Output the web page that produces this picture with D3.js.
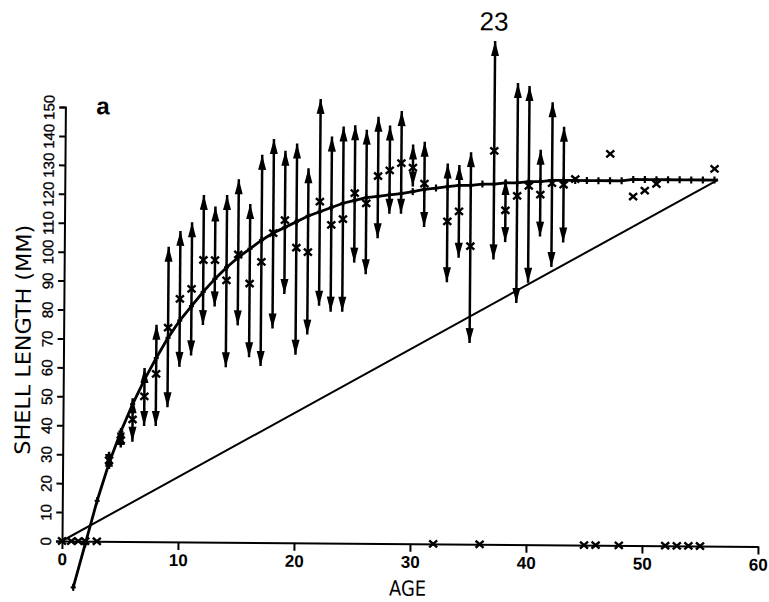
<!DOCTYPE html>
<html>
<head>
<meta charset="utf-8">
<script src="https://cdn.jsdelivr.net/npm/d3@7"></script>
<style>
  body { margin: 0; background: #fff; }
  svg { display: block; }
  .axis path, .axis line { stroke: #000; stroke-width: 2; }
  .axis text { fill: #000; font-family: "Liberation Sans", Arial, sans-serif; }
</style>
</head>
<body>
<div id="chart"></div>
<script>
// Fitted growth curve, one "+" per year of age
var curveAges = [1, 2, 3, 4, 5, 6, 7, 8, 9, 10, 11, 12, 13, 14, 15, 16, 17, 18, 19, 20,
  21, 22, 23, 24, 25, 26, 27, 28, 29, 30, 31, 32, 33, 34, 35, 36, 37, 38, 39, 40,
  41, 42, 43, 44, 45, 46, 47, 48, 49, 50, 51, 52, 53, 54, 55, 56]
var curveLength = [-16, -1, 14, 27, 38, 47.5, 56, 63.5, 70.5, 76.5, 81.5, 86.5, 91, 95, 98.5, 101.5, 104.5, 107, 109, 111,
  113, 114.5, 116, 117.5, 118.5, 119.5, 120, 120.5, 121, 121.7, 122.5, 123, 123.5, 124, 124, 124.5, 124.5, 125, 125, 125.5,
  125.5, 126, 126, 126, 126, 126, 126, 126, 126.5, 126.5, 126.5, 126.5, 126.5, 126.5, 126.5, 126.5]

// Straight reference line
var lineAges = [0, 56.3]
var lineLength = [0, 126.6]

// Observed mean length per age with its range (arrows)
var barAges = [4, 5, 6, 7, 8, 9, 10, 11, 12, 13, 14, 15, 16, 17, 18, 19, 20, 21, 22, 23,
  24, 25, 26, 27, 28, 29, 30, 31, 33, 34, 35, 37, 38, 39, 40, 41, 42, 43]
var barMean = [28, 35, 42.2, 50.2, 58, 74, 84, 87.5, 97.5, 97.5, 90.5, 99.5, 89.5, 97, 107, 111.5, 102, 100.5, 118, 110,
  112, 121, 117.5, 127, 129, 131.5, 130, 124.5, 111.5, 115, 103, 136, 115.5, 120.5, 124, 121, 125, 124.5]
var barHigh = [31, 38.5, 49.5, 60, 75, 102, 107.5, 110.5, 120, 116, 120, 125.5, 117, 134, 139.5, 135.5, 138, 129.5, 153.5, 140.5,
  144, 144.5, 143, 147.5, 144.5, 149.5, 138, 139, 131.5, 131, 135.5, 174, 126, 159.5, 158.5, 136.5, 153, 144.5]
var barLow = [25, 32.5, 34.5, 40, 40, 46.5, 60.5, 64.5, 75, 81.5, 60.5, 75, 64, 61, 74, 86, 65, 72, 82, 80,
  80, 97, 93, 105.5, 114, 114, 123.5, 109.5, 90.5, 99, 69.5, 98.5, 104.5, 83.5, 90.5, 106.5, 96, 104.5]

// Single observations without range
var extraAges = [44, 47, 49, 50, 51, 56]
var extraLength = [126.5, 135.3, 120.6, 122.7, 125, 130.4]

// Ages with no sample, plotted on the axis
var zeroAges = [0, 0.8, 1.4, 2, 3, 32, 36, 45, 46, 48, 52, 53, 54, 55]

var xTicks = [0, 10, 20, 30, 40, 50, 60]
var yTicks = [0, 10, 20, 30, 40, 50, 60, 70, 80, 90, 100, 110, 120, 130, 140, 150]

var width = 769, height = 602

var x = d3.scaleLinear().domain([0, 60]).range([62, 758])
var y = d3.scaleLinear().domain([0, 150]).range([541, 107])

var svg = d3.select("#chart")
  .append("svg")
    .attr("width", width)
    .attr("height", height)

svg.append("rect")
  .attr("width", width)
  .attr("height", height)
  .attr("fill", "#fff")

// the scanned plot sits slightly rotated
var g = svg.append("g")
  .attr("transform", "rotate(0.45," + x(0) + "," + y(0) + ")")

// Add X axis
var xAxis = g.append("g")
  .attr("class", "axis")
  .attr("transform", "translate(0," + y(0) + ")")
  .call(d3.axisBottom(x).tickValues(xTicks).tickSize(8).tickSizeOuter(0).tickPadding(4))
xAxis.selectAll("text")
  .style("font-size", "17px")
  .style("font-weight", "bold")

// Add Y axis
var yAxis = g.append("g")
  .attr("class", "axis")
  .attr("transform", "translate(" + x(0) + ",0)")
  .call(d3.axisLeft(y).tickValues(yTicks).tickSize(6).tickSizeOuter(6))
yAxis.selectAll("text")
  .attr("transform", "rotate(-90)")
  .attr("x", 0)
  .attr("y", -11)
  .attr("dy", null)
  .attr("text-anchor", "middle")
  .style("font-size", "15px")
  .style("stroke", "#000")
  .style("stroke-width", 0.3)

// Axis titles
g.append("text")
  .attr("transform", "translate(29,340) rotate(-90)")
  .attr("text-anchor", "middle")
  .attr("textLength", 230)
  .attr("lengthAdjust", "spacingAndGlyphs")
  .style("font-family", "DejaVu Sans, sans-serif")
  .style("font-size", "21px")
  .text("SHELL LENGTH (MM)")

g.append("text")
  .attr("x", 408)
  .attr("y", 593)
  .attr("text-anchor", "middle")
  .attr("textLength", 37)
  .attr("lengthAdjust", "spacingAndGlyphs")
  .style("font-family", "DejaVu Sans, sans-serif")
  .style("font-size", "21px")
  .text("AGE")

// Panel letter and sample count
g.append("text")
  .attr("x", 93)
  .attr("y", 114)
  .style("font-family", "Liberation Sans, Arial, sans-serif")
  .style("font-size", "24px")
  .style("font-weight", "bold")
  .text("a")

g.append("text")
  .attr("x", 490)
  .attr("y", 27)
  .attr("text-anchor", "middle")
  .style("font-family", "Liberation Sans, Arial, sans-serif")
  .style("font-size", "26px")
  .text("23")

// Straight line
g.append("path")
  .datum(d3.zip(lineAges, lineLength))
  .attr("fill", "none")
  .attr("stroke", "#000")
  .attr("stroke-width", 2)
  .attr("d", d3.line().x(function(d) { return x(d[0]) }).y(function(d) { return y(d[1]) }))

// Growth curve
var curvePts = d3.zip(curveAges, curveLength)
curvePts.push([lineAges[1], lineLength[1]])
g.append("path")
  .datum(curvePts)
  .attr("fill", "none")
  .attr("stroke", "#000")
  .attr("stroke-width", 2.8)
  .attr("d", d3.line().x(function(d) { return x(d[0]) }).y(function(d) { return y(d[1]) }))

g.append("g")
  .selectAll("path")
  .data(d3.zip(curveAges, curveLength))
  .enter()
  .append("path")
    .attr("transform", function(d) { return "translate(" + x(d[0]) + "," + y(d[1]) + ")" })
    .attr("d", "M0,-3.5V3.5M-2.5,0H2.5")
    .attr("stroke", "#000")
    .attr("stroke-width", 2.2)

// Range arrows
var bars = barAges.map(function(a, i) {
  return { age: a, mean: barMean[i], high: barHigh[i], low: barLow[i] }
})
var bar = g.append("g")
  .selectAll("g")
  .data(bars)
  .enter()
  .append("g")
bar.append("line")
  .attr("x1", function(d) { return x(d.age) })
  .attr("x2", function(d) { return x(d.age) })
  .attr("y1", function(d) { return y(d.low) })
  .attr("y2", function(d) { return y(d.high) })
  .attr("stroke", "#000")
  .attr("stroke-width", 2.5)
bar.append("path")
  .attr("d", function(d) {
    var cx = x(d.age), t = y(d.high)
    return "M" + cx + "," + t + "L" + (cx + 4) + "," + (t + 15) + "L" + (cx - 4) + "," + (t + 15) + "Z"
  })
  .attr("fill", "#000")
bar.append("path")
  .attr("d", function(d) {
    var cx = x(d.age), b = y(d.low)
    return "M" + cx + "," + b + "L" + (cx + 4) + "," + (b - 15) + "L" + (cx - 4) + "," + (b - 15) + "Z"
  })
  .attr("fill", "#000")

// Cross markers
function cross(sel) {
  sel.attr("d", "M-4,-3.5L4,3.5M4,-3.5L-4,3.5")
    .attr("stroke", "#000")
    .attr("stroke-width", 2.4)
}

g.append("g")
  .selectAll("path")
  .data(bars)
  .enter()
  .append("path")
    .attr("transform", function(d) { return "translate(" + x(d.age) + "," + y(d.mean) + ")" })
    .call(cross)

g.append("g")
  .selectAll("path")
  .data(d3.zip(extraAges, extraLength))
  .enter()
  .append("path")
    .attr("transform", function(d) { return "translate(" + x(d[0]) + "," + y(d[1]) + ")" })
    .call(cross)

g.append("g")
  .selectAll("path")
  .data(zeroAges)
  .enter()
  .append("path")
    .attr("transform", function(d) { return "translate(" + x(d) + "," + y(0) + ")" })
    .call(cross)
</script>
</body>
</html>
